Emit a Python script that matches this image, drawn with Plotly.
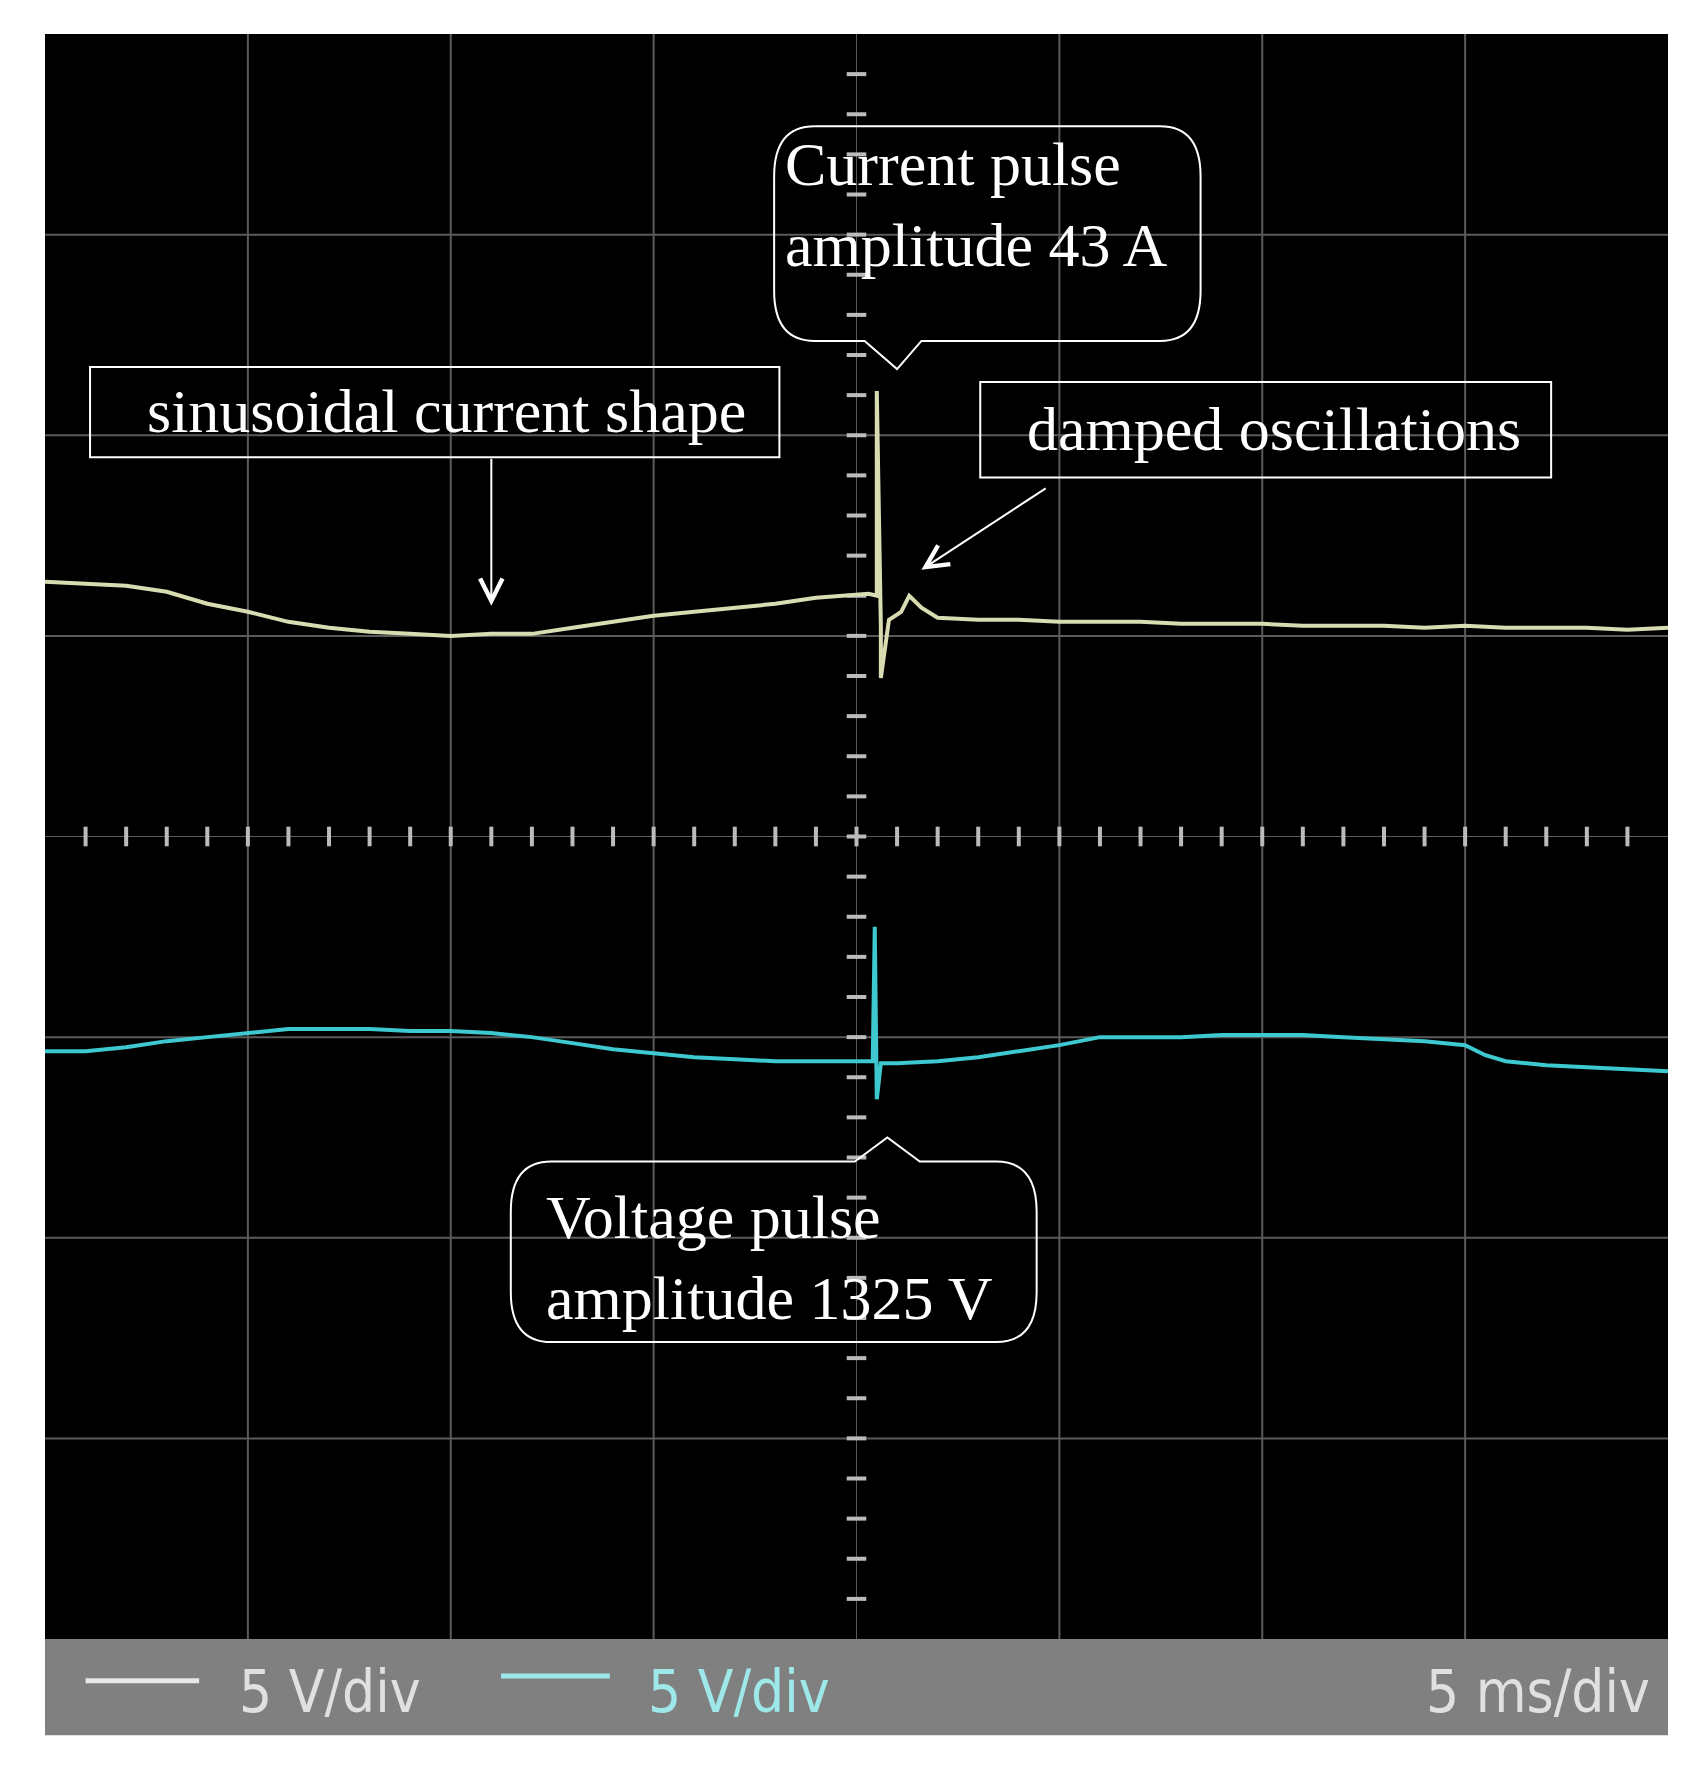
import plotly.graph_objects as go

# time in ms (0..40), amplitude in divisions
cur_t = [0,1,2,3,4,5,6,7,8,9,10,11,12,13,14,15,16,17,18,19,19.6,20.3,20.5,20.5,20.6,20.6,20.8,21.1,21.3,21.6,22,23,24,25,26,27,28,29,30,31,32,33,34,35,36,37,38,39,40]
cur_v = [1.27,1.26,1.25,1.22,1.16,1.12,1.07,1.04,1.02,1.01,1.00,1.01,1.01,1.04,1.07,1.10,1.12,1.14,1.16,1.19,1.20,1.21,1.20,2.22,1.05,0.79,1.08,1.12,1.20,1.14,1.09,1.08,1.08,1.07,1.07,1.07,1.06,1.06,1.06,1.05,1.05,1.05,1.04,1.05,1.04,1.04,1.04,1.03,1.04]
volt_t = [0,1,2,3,4,5,6,7,8,9,10,11,12,13,14,15,16,17,18,19,20,20.4,20.45,20.5,20.6,21,22,23,24,25,26,27,28,29,30,31,32,33,34,35,35.5,36,37,38,39,40]
volt_v = [-1.07,-1.07,-1.05,-1.02,-1.00,-0.98,-0.96,-0.96,-0.96,-0.97,-0.97,-0.98,-1.00,-1.03,-1.06,-1.08,-1.10,-1.11,-1.12,-1.12,-1.12,-1.12,-0.45,-1.31,-1.13,-1.13,-1.12,-1.10,-1.07,-1.04,-1.00,-1.00,-1.00,-0.99,-0.99,-0.99,-1.00,-1.01,-1.02,-1.04,-1.09,-1.12,-1.14,-1.15,-1.16,-1.17]

fig = go.Figure()
GRID = "#5a5a5a"
shapes = []
for i in range(1, 8):
    if i == 4:
        continue
    shapes.append(dict(type="line", x0=i*5, x1=i*5, y0=-4, y1=4, line=dict(color=GRID, width=2), layer="below"))
    shapes.append(dict(type="line", y0=i-4, y1=i-4, x0=0, x1=40, line=dict(color=GRID, width=2), layer="below"))
shapes.append(dict(type="line", x0=20, x1=20, y0=-4, y1=4, line=dict(color=GRID, width=1), layer="below"))
shapes.append(dict(type="line", y0=0, y1=0, x0=0, x1=40, line=dict(color=GRID, width=1), layer="below"))

tx = [i*1.0 for i in range(1, 40)]
ty = [i*0.2-4 for i in range(1, 40)]
fig.add_trace(go.Scatter(x=tx, y=[0]*len(tx), mode="markers",
    marker=dict(symbol="line-ns", size=14, line=dict(color="#bbbbbb", width=4)), hoverinfo="skip"))
fig.add_trace(go.Scatter(x=[20]*len(ty), y=ty, mode="markers",
    marker=dict(symbol="line-ew", size=14, line=dict(color="#bbbbbb", width=4)), hoverinfo="skip"))

fig.add_trace(go.Scatter(x=cur_t, y=cur_v, mode="lines", line=dict(color="#d8dcb0", width=4)))
fig.add_trace(go.Scatter(x=volt_t, y=volt_v, mode="lines", line=dict(color="#3ec8d0", width=4)))

def rbox(x0, x1, y0, y1, ptr, top=False):
    rx, ry = 1.0, 0.25
    px, py = ptr
    right = f"L{x1-rx},{y0} Q{x1},{y0} {x1},{y0-ry} L{x1},{y1+ry} Q{x1},{y1} {x1-rx},{y1} "
    left = f"L{x0+rx},{y1} Q{x0},{y1} {x0},{y1+ry} L{x0},{y0-ry} Q{x0},{y0} {x0+rx},{y0} Z"
    if not top:
        return f"M{x0+rx},{y0} " + right + f"L{px+0.6},{y1} L{px},{py} L{px-0.8},{y1} " + left
    return (f"M{x0+rx},{y0} L{px-0.8},{y0} L{px},{py} L{px+0.8},{y0} " + right + left)

W = dict(color="white", width=2)
shapes.append(dict(type="path", path=rbox(17.97, 28.48, 3.54, 2.47, ptr=(21.0, 2.33)), line=W))
shapes.append(dict(type="path", path=rbox(11.48, 24.44, -1.62, -2.52, ptr=(20.76, -1.50), top=True), line=W))
shapes.append(dict(type="rect", x0=1.11, x1=18.1, y0=2.34, y1=1.89, line=W))
shapes.append(dict(type="rect", x0=23.05, x1=37.12, y0=2.265, y1=1.79, line=W))
shapes.append(dict(type="rect", xref="paper", yref="paper", x0=0, x1=1, y0=0, y1=-0.06, fillcolor="#808080", line=dict(width=0)))
shapes.append(dict(type="line", xref="paper", yref="paper", x0=0.025, x1=0.095, y0=-0.026, y1=-0.026, line=dict(color="#e8e8e8", width=5)))
shapes.append(dict(type="line", xref="paper", yref="paper", x0=0.281, x1=0.348, y0=-0.023, y1=-0.023, line=dict(color="#9ee8ea", width=5)))

F = dict(family="Liberation Serif", color="white", size=62)
ann = [
    dict(x=18.2, y=3.15, text="Current pulse<br>amplitude 43 A", xanchor="left", align="left"),
    dict(x=12.3, y=-2.1, text="Voltage pulse<br>amplitude 1325 V", xanchor="left", align="left"),
    dict(x=9.9, y=2.12, text="sinusoidal current shape"),
    dict(x=30.3, y=2.03, text="damped oscillations"),
]
annotations = [dict(a, xref="x", yref="y", showarrow=False, font=F, yanchor="middle") for a in ann]
annotations += [
    dict(x=11.0, y=1.15, ax=11.0, ay=1.89, xref="x", yref="y", axref="x", ayref="y", text="", showarrow=True,
         arrowhead=5, arrowsize=2.2, arrowwidth=2, arrowcolor="white"),
    dict(x=21.6, y=1.33, ax=24.7, ay=1.74, xref="x", yref="y", axref="x", ayref="y", text="", showarrow=True,
         arrowhead=5, arrowsize=2.2, arrowwidth=2, arrowcolor="white"),
]
SF = dict(family="DejaVu Sans Condensed", size=58)
annotations += [
    dict(x=0.118, y=-0.033, xref="paper", yref="paper", text="5 V/div", showarrow=False, xanchor="left", yanchor="middle", font=dict(SF, color="#e0e0e0")),
    dict(x=0.37, y=-0.033, xref="paper", yref="paper", text="5 V/div", showarrow=False, xanchor="left", yanchor="middle", font=dict(SF, color="#9ee8ea")),
    dict(x=0.99, y=-0.033, xref="paper", yref="paper", text="5 ms/div", showarrow=False, xanchor="right", yanchor="middle", font=dict(SF, color="#e0e0e0")),
]

fig.update_layout(width=1702, height=1773, margin=dict(l=37, r=42, t=26, b=142),
    paper_bgcolor="white", plot_bgcolor="black", showlegend=False,
    shapes=shapes, annotations=annotations,
    xaxis=dict(range=[0, 40], showgrid=False, zeroline=False, showticklabels=False, ticks=""),
    yaxis=dict(range=[-4, 4], showgrid=False, zeroline=False, showticklabels=False, ticks=""))
fig.write_html("out.html")
